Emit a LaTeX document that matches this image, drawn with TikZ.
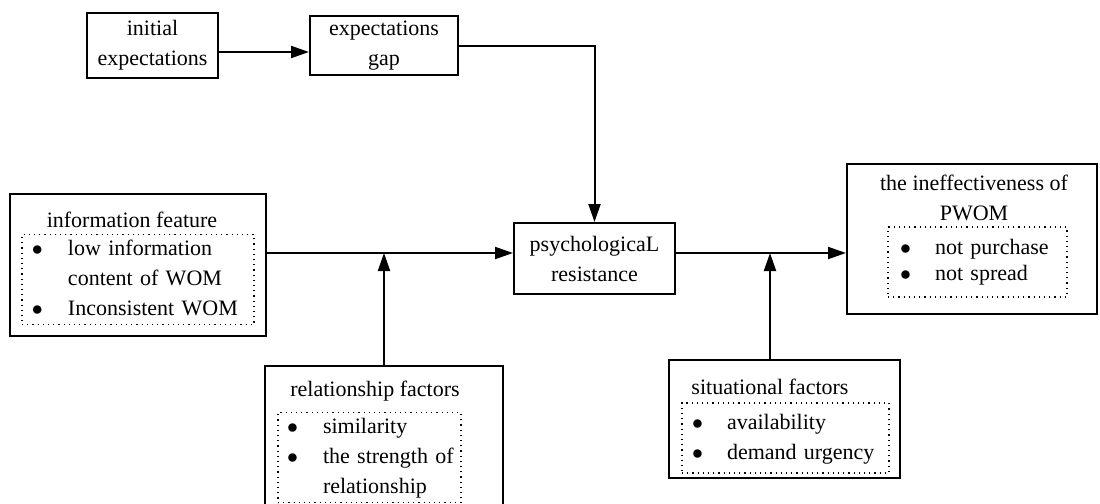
\documentclass[tikz,border=0pt]{standalone}
\usepackage{fontspec}
\setmainfont{Liberation Serif}
\usepackage{tikz}
\usetikzlibrary{arrows.meta}

\newcommand{\wlist}[2][17.5pt]{\begin{tabular}{@{}p{#1}@{}l@{}}#2\end{tabular}}
\newcommand{\blt}{$\bullet$}

\begin{document}
\begin{tikzpicture}[x=0.5pt,y=-0.5pt,line width=1pt,>={Triangle[length=9pt,width=6pt]}]
	\tikzstyle{box}=[draw,rectangle,inner sep=0pt,align=center,font=\fontsize{11}{15}\selectfont]
	\tikzstyle{dotbox}=[draw,rectangle,dotted,line width=0.6pt,inner ysep=0pt,align=left,font=\fontsize{11}{15}\selectfont]
	\tikzstyle{title}=[inner sep=0pt,align=center,font=\fontsize{11}{15}\selectfont]
	\useasboundingbox (0,0) rectangle (1100,504);
	% simple boxes
	\node[box,minimum width=65.5pt,minimum height=32.5pt](init) at (152.5,45.5) {initial\\expectations};
	\node[box,minimum width=74pt,minimum height=29.5pt](gap) at (384,45.5) {expectations\\gap};
	\node[box,minimum width=80.5pt,minimum height=35.5pt](psych) at (594.5,258.5) {psychologicaL\\resistance};
	% boxes with lists
	\node[box,minimum width=128pt,minimum height=71pt](info) at (138,265) {};
	\node[title](infotitle) at (132,220) {information feature};
	\node[dotbox,minimum width=116pt,minimum height=44.5pt,text width=106pt,inner xsep=5pt](infolist) at (138,279.5)
		{\wlist[18pt]{\blt & low information\\ & content of WOM\\ \blt & Inconsistent WOM}};
	\node[box,minimum width=125pt,minimum height=75pt](ineff) at (972,239) {};
	\node[title](inefftitle) at (974,198) {the ineffectiveness of\\PWOM};
	\node[dotbox,minimum width=89.5pt,minimum height=35pt,text width=77.5pt,inner xsep=6pt,font=\fontsize{11}{13}\selectfont](inefflist) at (977.5,262)
		{\wlist{\blt & not purchase\\ \blt & not spread}};
	\node[box,minimum width=119pt,minimum height=77pt](rel) at (384,443) {};
	\node[title](reltitle) at (375,391) {relationship factors};
	\node[dotbox,minimum width=91.5pt,minimum height=44.5pt,text width=82.5pt,inner xsep=4.5pt](rellist) at (369.5,457.5)
		{\wlist[18pt]{\blt & similarity\\ \blt & the strength of\\ & relationship}};
	\node[box,minimum width=115.5pt,minimum height=59pt](sit) at (784.5,419) {};
	\node[title](sittitle) at (770,387) {situational factors};
	\node[dotbox,minimum width=103.5pt,minimum height=35pt,text width=93.5pt,inner xsep=5pt](sitlist) at (785.5,438)
		{\wlist{\blt & availability\\ \blt & demand urgency}};
	% connectors
	\coordinate (toprow) at (0,52);
	\coordinate (midrow) at (0,253);
	\coordinate (relhit) at (384,253);
	\coordinate (sithit) at (770,253);
	\draw[->] (init.east |- toprow) -- (gap.west |- toprow);
	\draw[->] (gap.east) -| (psych.north);
	\draw[->] (info.east |- midrow) -- (psych.west |- midrow);
	\draw[->] (psych.east |- midrow) -- (ineff.west |- midrow);
	\draw[->] (rel.north) -- (relhit);
	\draw[->] (sit.north -| sithit) -- (sithit);
\end{tikzpicture}
\end{document}
